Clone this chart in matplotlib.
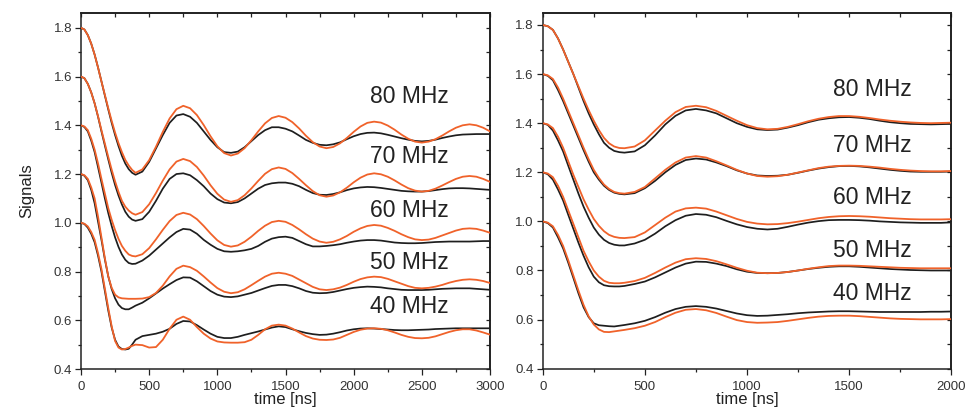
import numpy as np
import matplotlib
matplotlib.use("Agg")
import matplotlib.pyplot as plt
from matplotlib.ticker import MultipleLocator, NullLocator, FormatStrFormatter

plt.rcParams['font.family'] = ['Liberation Sans', 'DejaVu Sans']

# ---------------- data ----------------
# sampling times (ns): 25 ns steps during the initial drop, 50 ns afterwards
t_left = np.r_[np.arange(0, 400, 25), np.arange(400, 3001, 50)]
t_right = np.r_[np.arange(0, 400, 25), np.arange(400, 2001, 50)]
labels = ["80 MHz", "70 MHz", "60 MHz", "50 MHz", "40 MHz"]

# Left panel: theory (orange)
L_O80 = [1.80,1.793,1.77,1.735,1.69,1.637,1.58,1.525,1.47,1.418,1.37,1.327,1.29,1.258,1.235,1.217,1.205,
         1.219,1.257,1.312,1.373,1.428,1.466,1.48,
         1.470,1.442,1.401,1.355,1.314,1.286,1.276,
         1.284,1.306,1.339,1.375,1.408,1.430,1.438,
         1.431,1.413,1.387,1.357,1.331,1.313,1.306,
         1.311,1.326,1.348,1.373,1.395,1.410,1.415,
         1.411,1.399,1.382,1.362,1.345,1.333,1.329,
         1.333,1.343,1.358,1.375,1.390,1.400,1.404,
         1.400,1.390,1.375]
L_O70 = [1.60,1.593,1.57,1.535,1.49,1.437,1.38,1.325,1.27,1.218,1.17,1.127,1.09,1.066,1.05,1.039,1.033,
         1.044,1.076,1.122,1.173,1.219,1.251,1.262,
         1.253,1.229,1.194,1.154,1.119,1.095,1.086,
         1.093,1.113,1.141,1.172,1.201,1.220,1.227,
         1.221,1.204,1.180,1.154,1.130,1.113,1.107,
         1.112,1.125,1.144,1.166,1.185,1.198,1.203,
         1.199,1.189,1.174,1.157,1.142,1.132,1.128,
         1.131,1.140,1.153,1.167,1.180,1.189,1.192,
         1.189,1.180,1.168]
L_O60 = [1.40,1.395,1.38,1.345,1.30,1.243,1.18,1.12,1.06,1.012,0.97,0.934,0.905,0.885,0.87,0.864,0.862,
         0.871,0.896,0.932,0.971,1.007,1.032,1.041,
         1.034,1.015,0.987,0.956,0.928,0.909,0.902,
         0.907,0.922,0.943,0.967,0.988,1.003,1.008,
         1.004,0.991,0.973,0.953,0.935,0.923,0.918,
         0.922,0.932,0.946,0.963,0.977,0.987,0.991,
         0.988,0.979,0.967,0.953,0.941,0.932,0.929,
         0.931,0.938,0.948,0.958,0.968,0.975,0.977,
         0.975,0.968,0.959]
L_O50 = [1.20,1.195,1.18,1.145,1.10,1.025,0.94,0.855,0.78,0.733,0.705,0.694,0.69,0.689,0.688,0.688,0.688,
         0.689,0.695,0.712,0.742,0.780,0.811,0.824,
         0.818,0.803,0.780,0.755,0.732,0.717,0.711,
         0.715,0.727,0.744,0.762,0.779,0.791,0.795,
         0.791,0.782,0.767,0.752,0.737,0.727,0.724,
         0.727,0.734,0.745,0.758,0.769,0.776,0.779,
         0.777,0.770,0.760,0.750,0.740,0.733,0.731,
         0.733,0.738,0.745,0.754,0.761,0.766,0.768,
         0.766,0.761,0.753]
L_O40 = [1.00,0.996,0.985,0.962,0.93,0.875,0.81,0.73,0.65,0.575,0.515,0.488,0.48,0.482,0.488,0.495,0.500,
         0.498,0.488,0.490,0.520,0.565,0.602,0.615,
         0.602,0.572,0.545,0.525,0.513,0.509,0.508,
         0.508,0.510,0.520,0.540,0.563,0.578,0.582,
         0.578,0.566,0.550,0.535,0.525,0.520,0.519,
         0.521,0.528,0.540,0.552,0.561,0.566,0.567,
         0.565,0.559,0.550,0.540,0.532,0.527,0.526,
         0.528,0.534,0.543,0.552,0.559,0.563,0.563,
         0.558,0.550,0.541]

# Left panel: measurement (black)
L_B80 = [1.80,1.793,1.77,1.735,1.69,1.637,1.58,1.522,1.465,1.41,1.36,1.315,1.275,1.243,1.22,1.205,1.197,
         1.21,1.25,1.305,1.36,1.41,1.44,1.446,
         1.435,1.41,1.375,1.34,1.31,1.29,1.287,
         1.292,1.31,1.335,1.36,1.38,1.392,1.392,
         1.386,1.375,1.358,1.34,1.328,1.32,1.318,
         1.322,1.33,1.343,1.355,1.364,1.369,1.37,
         1.367,1.361,1.354,1.347,1.341,1.336,1.334,
         1.336,1.341,1.348,1.354,1.359,1.362,1.363,
         1.364,1.364,1.364]
L_B70 = [1.60,1.593,1.57,1.535,1.49,1.435,1.375,1.317,1.26,1.205,1.155,1.112,1.075,1.045,1.025,1.013,1.008,
         1.015,1.045,1.09,1.14,1.18,1.20,1.203,
         1.195,1.175,1.15,1.12,1.097,1.083,1.08,
         1.085,1.10,1.12,1.14,1.155,1.162,1.165,
         1.165,1.16,1.15,1.135,1.122,1.115,1.114,
         1.118,1.125,1.134,1.141,1.145,1.147,1.146,
         1.143,1.139,1.135,1.131,1.129,1.128,1.128,
         1.13,1.134,1.138,1.141,1.142,1.142,1.141,
         1.139,1.137,1.135]
L_B60 = [1.40,1.393,1.375,1.337,1.29,1.228,1.165,1.10,1.04,0.987,0.94,0.901,0.87,0.848,0.835,0.831,0.832,
         0.845,0.865,0.89,0.915,0.94,0.962,0.975,
         0.972,0.955,0.93,0.91,0.893,0.883,0.881,
         0.883,0.887,0.893,0.905,0.922,0.935,0.941,
         0.943,0.938,0.925,0.912,0.903,0.903,0.905,
         0.908,0.912,0.918,0.923,0.927,0.929,0.929,
         0.927,0.923,0.919,0.917,0.916,0.916,0.917,
         0.919,0.921,0.922,0.923,0.923,0.923,0.923,
         0.924,0.925,0.925]
L_B50 = [1.20,1.193,1.175,1.135,1.08,1.005,0.93,0.85,0.78,0.728,0.69,0.664,0.65,0.645,0.645,0.652,0.66,
         0.672,0.69,0.71,0.73,0.748,0.765,0.776,
         0.775,0.76,0.74,0.72,0.705,0.697,0.695,
         0.698,0.705,0.712,0.722,0.732,0.741,0.745,
         0.745,0.74,0.731,0.72,0.713,0.711,0.712,
         0.716,0.722,0.728,0.733,0.736,0.738,0.737,
         0.735,0.731,0.728,0.725,0.724,0.724,0.724,
         0.725,0.727,0.729,0.73,0.731,0.731,0.731,
         0.729,0.727,0.725]
L_B40 = [1.00,0.995,0.98,0.955,0.92,0.865,0.80,0.72,0.64,0.57,0.52,0.492,0.482,0.48,0.483,0.50,0.52,
         0.535,0.54,0.545,0.553,0.565,0.585,0.597,
         0.595,0.58,0.562,0.545,0.532,0.527,0.527,
         0.532,0.54,0.547,0.554,0.562,0.57,0.575,
         0.572,0.563,0.555,0.548,0.543,0.54,0.541,
         0.545,0.551,0.558,0.563,0.566,0.567,0.566,
         0.564,0.562,0.56,0.559,0.559,0.56,0.561,
         0.562,0.564,0.565,0.566,0.567,0.567,0.567,
         0.567,0.567,0.567]

# Right panel: theory (orange)
R_O80 = [1.80,1.795,1.78,1.745,1.70,1.65,1.60,1.55,1.50,1.453,1.41,1.372,1.34,1.318,1.305,1.299,1.298,
         1.305,1.33,1.37,1.41,1.445,1.466,1.471,
         1.465,1.45,1.43,1.41,1.392,1.38,1.375,
         1.377,1.385,1.396,1.408,1.418,1.425,1.429,
         1.429,1.426,1.421,1.415,1.41,1.406,1.403,
         1.401,1.400,1.401,1.402]
R_O70 = [1.60,1.595,1.58,1.545,1.50,1.45,1.40,1.35,1.30,1.253,1.21,1.177,1.15,1.132,1.12,1.115,1.113,
         1.12,1.14,1.175,1.21,1.24,1.26,1.266,
         1.26,1.245,1.228,1.21,1.195,1.185,1.182,
         1.184,1.19,1.199,1.208,1.217,1.223,1.226,
         1.227,1.226,1.223,1.219,1.214,1.21,1.207,
         1.205,1.204,1.204,1.205]
R_O60 = [1.40,1.395,1.38,1.345,1.30,1.245,1.19,1.14,1.09,1.048,1.01,0.982,0.96,0.945,0.937,0.933,0.932,
         0.936,0.955,0.985,1.015,1.04,1.053,1.056,
         1.052,1.04,1.025,1.01,0.998,0.991,0.988,
         0.989,0.993,0.999,1.006,1.013,1.018,1.021,
         1.022,1.021,1.019,1.016,1.013,1.011,1.009,
         1.008,1.008,1.008,1.009]
R_O50 = [1.20,1.195,1.18,1.145,1.10,1.045,0.99,0.935,0.88,0.837,0.80,0.775,0.758,0.75,0.748,0.748,0.75,
         0.757,0.77,0.79,0.812,0.832,0.846,0.85,
         0.847,0.838,0.825,0.811,0.799,0.791,0.789,
         0.79,0.794,0.80,0.807,0.813,0.818,0.82,
         0.82,0.819,0.817,0.815,0.813,0.811,0.81,
         0.809,0.809,0.809,0.809]
R_O40 = [1.00,0.995,0.98,0.945,0.90,0.842,0.78,0.718,0.66,0.613,0.58,0.56,0.55,0.549,0.552,0.555,0.558,
         0.565,0.575,0.59,0.61,0.628,0.64,0.643,
         0.638,0.627,0.612,0.598,0.59,0.587,0.588,
         0.59,0.595,0.601,0.607,0.612,0.615,0.616,
         0.616,0.614,0.611,0.608,0.605,0.603,0.602,
         0.601,0.601,0.601,0.602]

# Right panel: measurement (black)
R_B80 = [1.80,1.795,1.78,1.745,1.70,1.65,1.60,1.545,1.49,1.44,1.395,1.355,1.32,1.30,1.287,1.282,1.28,
         1.285,1.31,1.35,1.395,1.43,1.452,1.458,
         1.452,1.44,1.42,1.40,1.385,1.375,1.372,
         1.374,1.382,1.392,1.404,1.414,1.42,1.424,
         1.425,1.422,1.417,1.41,1.404,1.40,1.397,
         1.396,1.395,1.396,1.397]
R_B70 = [1.60,1.593,1.575,1.535,1.49,1.44,1.39,1.34,1.29,1.243,1.20,1.17,1.145,1.128,1.117,1.112,1.11,
         1.115,1.135,1.165,1.20,1.23,1.25,1.256,
         1.252,1.24,1.225,1.208,1.195,1.187,1.185,
         1.186,1.19,1.198,1.207,1.215,1.221,1.225,
         1.226,1.224,1.22,1.215,1.21,1.206,1.203,
         1.202,1.202,1.202,1.203]
R_B60 = [1.40,1.393,1.37,1.33,1.285,1.227,1.17,1.113,1.06,1.015,0.975,0.946,0.925,0.912,0.905,0.902,0.902,
         0.91,0.925,0.95,0.98,1.005,1.023,1.03,
         1.027,1.017,1.002,0.988,0.977,0.97,0.967,
         0.97,0.978,0.987,0.995,1.001,1.005,1.006,
         1.006,1.005,1.003,1.0,0.998,0.996,0.995,
         0.994,0.994,0.994,0.996]
R_B50 = [1.20,1.192,1.17,1.13,1.085,1.027,0.97,0.913,0.86,0.813,0.775,0.752,0.74,0.736,0.735,0.735,0.737,
         0.745,0.755,0.772,0.792,0.812,0.828,0.836,
         0.835,0.828,0.818,0.805,0.795,0.79,0.789,
         0.79,0.794,0.80,0.806,0.811,0.815,0.817,
         0.817,0.815,0.812,0.809,0.806,0.804,0.802,
         0.801,0.80,0.80,0.80]
R_B40 = [1.00,0.993,0.975,0.935,0.89,0.832,0.77,0.707,0.65,0.61,0.585,0.577,0.575,0.573,0.572,0.575,0.578,
         0.585,0.595,0.61,0.628,0.643,0.652,0.655,
         0.652,0.645,0.635,0.625,0.618,0.615,0.616,
         0.619,0.622,0.626,0.629,0.631,0.633,0.634,
         0.634,0.633,0.632,0.631,0.631,0.631,0.631,
         0.631,0.632,0.632,0.633]

left_label_y = [1.52, 1.271, 1.052, 0.836, 0.656]
right_label_y = [1.538, 1.311, 1.097, 0.883, 0.707]

# ---------------- style ----------------
ORANGE = '#F0622A'
BLACK = '#1e1e1e'
TXT = '#222222'

fig = plt.figure(figsize=(9.66, 4.12), dpi=100)
axL = fig.add_axes([81/966, 43/412, 409/966, 356.3/412])
axR = fig.add_axes([542.7/966, 43.3/412, 408.6/966, 356/412])

def style(ax, xmax, ytop):
    ax.set_xlim(0, xmax)
    ax.set_ylim(0.4, ytop)
    ax.xaxis.set_major_locator(MultipleLocator(500))
    ax.xaxis.set_minor_locator(MultipleLocator(250))
    ax.yaxis.set_major_locator(MultipleLocator(0.2))
    ax.yaxis.set_minor_locator(MultipleLocator(0.1))
    ax.yaxis.set_major_formatter(FormatStrFormatter('%.1f'))
    ax.tick_params(which='major', direction='out', length=4.0, width=0.9,
                   colors=TXT, labelsize=9.5, labelcolor='#333333')
    ax.tick_params(axis='x', which='major', pad=5)
    ax.tick_params(axis='y', which='major', pad=2.5)
    ax.tick_params(which='minor', direction='out', length=2.4, width=0.9, colors=TXT)
    for s in ax.spines.values():
        s.set_linewidth(1.1)
        s.set_color(TXT)
    top = ax.secondary_xaxis('top')
    top.set_xticks(np.arange(0, xmax + 1, 250))
    top.xaxis.set_minor_locator(NullLocator())
    top.tick_params(direction='in', length=3, width=0.9, colors=TXT, labeltop=False)
    top.spines['top'].set_linewidth(1.1)
    right = ax.secondary_yaxis('right')
    right.set_yticks(np.round(np.arange(0.4, 1.81, 0.1), 1))
    right.yaxis.set_minor_locator(NullLocator())
    right.tick_params(direction='in', length=3, width=0.9, colors=TXT, labelright=False)
    right.spines['right'].set_linewidth(1.1)
    ax.set_xlabel('time [ns]', fontsize=12, color=TXT, labelpad=-1)

style(axL, 3000, 1.862)
style(axR, 2000, 1.85)

for yb in [L_B80, L_B70, L_B60, L_B50, L_B40]:
    axL.plot(t_left, yb, color=BLACK, lw=1.25, zorder=2)
for yo in [L_O80, L_O70, L_O60, L_O50, L_O40]:
    axL.plot(t_left, yo, color=ORANGE, lw=1.3, zorder=3)
for yb in [R_B80, R_B70, R_B60, R_B50, R_B40]:
    axR.plot(t_right, yb, color=BLACK, lw=1.25, zorder=2)
for yo in [R_O80, R_O70, R_O60, R_O50, R_O40]:
    axR.plot(t_right, yo, color=ORANGE, lw=1.3, zorder=3)

for lab, y in zip(labels, left_label_y):
    axL.text(2120, y, lab, fontsize=16.5, color=TXT, ha='left', va='center')
for lab, y in zip(labels, right_label_y):
    axR.text(1422, y, lab, fontsize=16.5, color=TXT, ha='left', va='center')

axL.set_ylabel('Signals', fontsize=12, color=TXT, labelpad=14)

fig.savefig('out.png', dpi=100)
